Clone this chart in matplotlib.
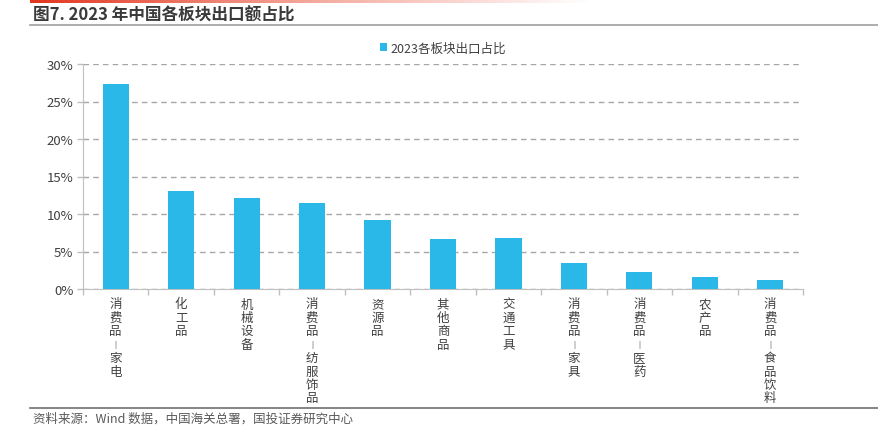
import matplotlib
matplotlib.use("Agg")
import matplotlib.pyplot as plt
import numpy as np
from matplotlib.colors import LinearSegmentedColormap

plt.rcParams['font.family'] = ['Noto Sans CJK SC', 'DejaVu Sans']

categories = ["消费品-家电", "化工品", "机械设备", "消费品-纺服饰品", "资源品", "其他商品",
              "交通工具", "消费品-家具", "消费品-医药", "农产品", "消费品-食品饮料"]
values = [27.3, 13.1, 12.1, 11.5, 9.2, 6.65, 6.8, 3.45, 2.25, 1.55, 1.25]
yticks = [0, 5, 10, 15, 20, 25, 30]
series_name = "2023各板块出口占比"
title = "图7. 2023 年中国各板块出口额占比"
source = "资料来源：Wind 数据，中国海关总署，国投证券研究中心"

W, H = 879, 427
fig = plt.figure(figsize=(W / 100, H / 100), dpi=100)

# top red gradient strip
gax = fig.add_axes([30 / W, 1 - 4 / H, 560 / W, 4 / H])
cmap = LinearSegmentedColormap.from_list("g", ["#e2361f", "#f4a89c", "#ffffff"])
gax.imshow(np.linspace(0, 1, 256)[None, :], aspect="auto", cmap=cmap)
gax.axis("off")

fig.text(33 / W, 1 - 16 / H, title, fontsize=12, fontweight="bold", color="#3a3a3a",
         va="center", ha="left")
fig.add_artist(plt.Line2D([30 / W, 1], [1 - 25.5 / H] * 2, color="#a0a0a0", lw=1.2))
fig.add_artist(plt.Line2D([30 / W, 1], [1 - 409 / H] * 2, color="#707070", lw=1.2))
fig.text(33 / W, 1 - 419 / H, source, fontsize=9, color="#595959", va="center",
         ha="left", style="italic")

ax = fig.add_axes([83 / W, 1 - 290 / H, 720 / W, 225 / H])
x = np.arange(len(categories))
ax.bar(x, values, width=0.4, color="#29b8e8", label=series_name, zorder=3)
ax.set_xlim(-0.5, len(categories) - 0.5)
ax.set_ylim(0, 30)
ax.set_yticks(yticks)
ax.set_yticklabels([f"{v}%" for v in yticks], fontsize=9.5, color="#404040")
ax.yaxis.grid(True, linestyle=(0, (4, 3)), color="#a6a6a6", lw=1, zorder=0)
ax.set_xticks(np.arange(len(categories) + 1) - 0.5)
ax.set_xticklabels([])
ax.tick_params(axis="x", direction="out", length=4, color="#bfbfbf", width=1)
ax.tick_params(axis="y", direction="out", length=4, color="#bfbfbf", width=1, pad=3)
for s in ["top", "right"]:
    ax.spines[s].set_visible(False)
ax.spines["left"].set_color("#bfbfbf")
ax.spines["bottom"].set_color("#bfbfbf")

pitch = 9.65  # points between stacked characters
start = -10.8
for xi, lab in zip(x, categories):
    for i, ch in enumerate(lab):
        is_dash = ch == "-"
        ax.annotate("|" if is_dash else ch, xy=(xi, 0), xycoords=("data", "axes fraction"),
                    xytext=(0, start - i * pitch), textcoords="offset points",
                    ha="center", va="center", fontsize=5.5 if is_dash else 9,
                    color="#404040")

leg = ax.legend(loc="upper center", bbox_to_anchor=(0.5, 1.15), frameon=False,
                fontsize=9, handlelength=0.6, handleheight=0.6, handletextpad=0.3)
for t in leg.get_texts():
    t.set_color("#404040")

fig.savefig("out.png", dpi=100)
